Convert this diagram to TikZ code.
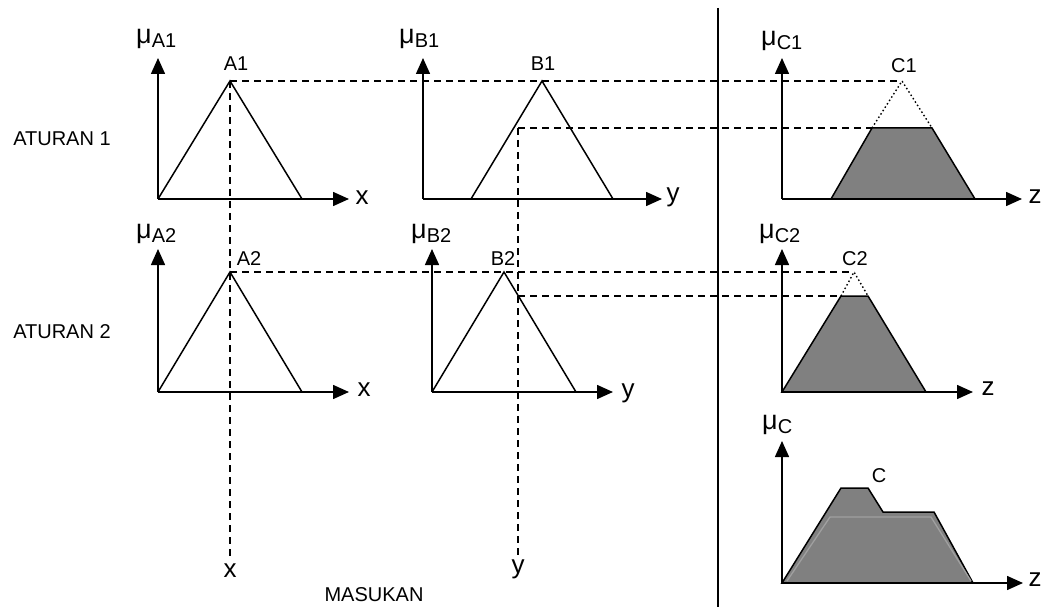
\documentclass[tikz,border=0pt]{standalone}
\usepackage{fontspec}
\setmainfont{Liberation Sans}
\usetikzlibrary{arrows.meta}
\newcommand\mulab[1]{{\fontsize{27}{27}\selectfont μ}\raisebox{-4pt}{\fontsize{20}{20}\selectfont #1}}
\tikzset{
  axis/.style={line width=1.5pt,-{Triangle[length=16pt,width=14pt]}},
  mf/.style={line width=1.5pt,line join=miter},
  fillmf/.style={line width=1.5pt,fill={rgb,255:red,128;green,128;blue,128},line join=miter},
  guide/.style={line width=1.4pt,dash pattern=on 7pt off 5pt},
  cut/.style={line width=1.4pt,dash pattern=on 1.5pt off 2.5pt},
  lab/.style={inner sep=0pt,font=\fontsize{20}{24}\selectfont},
  axlab/.style={inner sep=0pt,font=\fontsize{26}{30}\selectfont},
  mu/.style={inner sep=0pt,anchor=base west}
}
\begin{document}
\begin{tikzpicture}[x=1pt,y=-1pt]
\useasboundingbox (0,0) rectangle (1045,607);
% key points
\coordinate (A1p) at (230,81);
\coordinate (B1p) at (542,81);
\coordinate (C1p) at (902,81);
\coordinate (C1tl) at (872,128);
\coordinate (C1tr) at (932,128);
\coordinate (y1) at (518,128);
\coordinate (A2p) at (230,272);
\coordinate (B2p) at (504,272);
\coordinate (C2p) at (854,272);
\coordinate (C2tl) at (841,296);
\coordinate (C2tr) at (868,296);
\coordinate (y2) at (518,296);
% separator
\coordinate (sepT) at (718,8);
\coordinate (sepB) at (718,607);
\draw[line width=1.3pt] (sepT) -- (sepB);

% ---- Rule 1 ----
\coordinate (oA1) at (158,199);
\coordinate (oB1) at (423,199);
\coordinate (oC1) at (782,199);
\draw[fillmf] (831,199) -- (C1tl) -- (C1tr) -- (975,199) -- cycle;
\draw[mf] (oA1) -- (A1p) -- (302,199);
\draw[mf] (471,199) -- (B1p) -- (613,199);
\draw[cut] (C1tl) -- (C1p) -- (C1tr);
\draw[axis] (oA1) -- (158,58);
\draw[axis] (oA1) -- (349,199);
\draw[axis] (oB1) -- (423,58);
\draw[axis] (oB1) -- (662,199);
\draw[axis] (oC1) -- (782,58);
\draw[axis] (oC1) -- (1022,199);

% ---- Rule 2 ----
\coordinate (oA2) at (158,392);
\coordinate (oB2) at (432,392);
\coordinate (oC2) at (782,392);
\draw[fillmf] (oC2) -- (C2tl) -- (C2tr) -- (926,392) -- cycle;
\draw[mf] (oA2) -- (A2p) -- (302,392);
\draw[mf] (oB2) -- (B2p) -- (576,392);
\draw[cut] (C2tl) -- (C2p) -- (C2tr);
\draw[axis] (oA2) -- (158,249);
\draw[axis] (oA2) -- (349,392);
\draw[axis] (oB2) -- (432,249);
\draw[axis] (oB2) -- (613,392);
\draw[axis] (oC2) -- (782,249);
\draw[axis] (oC2) -- (973,392);

% ---- Result ----
\coordinate (oC) at (782,583);
\draw[fillmf] (oC) -- (841,488) -- (868,488) -- (883,512) -- (934,512) -- (973,583) -- cycle;
\draw[line width=1.3pt,color={rgb,255:red,160;green,160;blue,160}] (787,581) -- (830,517) -- (931,517) -- (971,581);
\draw[axis] (oC) -- (782,441);
\draw[axis] (oC) -- (1023,583);

% ---- guide lines ----
\coordinate (xend) at (230,558);
\coordinate (yend) at (518,555);
\draw[guide] (A1p) -- (C1p);
\draw[guide] (A1p) -- (xend);
\draw[guide] (y1) -- (C1tl);
\draw[guide] (y1) -- (yend);
\draw[guide] (A2p) -- (C2p);
\draw[guide] (y2) -- (C2tl);

% ---- labels ----
\node[mu] (muA1) at (136,44) {\mulab{A1}};
\node[mu] (muB1) at (399,44) {\mulab{B1}};
\node[mu] (muC1) at (761,46) {\mulab{C1}};
\node[mu] (muA2) at (136,238) {\mulab{A2}};
\node[mu] (muB2) at (411,238) {\mulab{B2}};
\node[mu] (muC2) at (759,239) {\mulab{C2}};
\node[mu] (muC) at (762,429) {\mulab{C}};

\node[lab] (lA1) at (236,64) {A1};
\node[lab] (lB1) at (543,64) {B1};
\node[lab] (lC1) at (904,66) {C1};
\node[lab] (lA2) at (249,259) {A2};
\node[lab] (lB2) at (503,259) {B2};
\node[lab] (lC2) at (855,259) {C2};
\node[lab] (lC) at (879,476) {C};

\node[axlab] (x1) at (362,198) {x};
\node[axlab,anchor=base] (yl1) at (673,202) {y};
\node[axlab] (z1) at (1035,197) {z};
\node[axlab] (x2) at (364,390) {x};
\node[axlab,anchor=base] (yl2) at (628,397) {y};
\node[axlab] (z2) at (988,389) {z};
\node[axlab] (z3) at (1035,580) {z};
\node[axlab] (xin) at (230,571) {x};
\node[axlab,anchor=base] (yin) at (518,573) {y};

\node[lab] (r1) at (62,139) {ATURAN 1};
\node[lab] (r2) at (62,332) {ATURAN 2};
\node[lab] (mas) at (374,595) {MASUKAN};
\end{tikzpicture}
\end{document}
